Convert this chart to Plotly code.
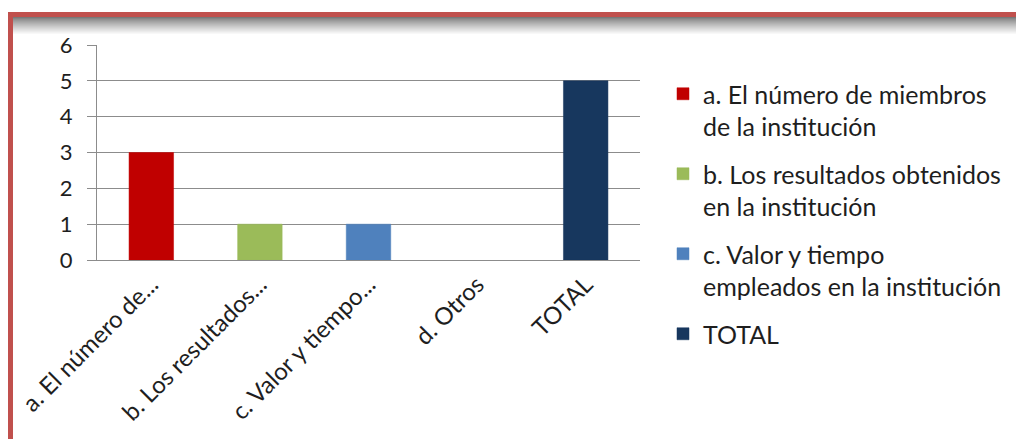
import plotly.graph_objects as go

# ---- data ----
categories = ["a. El número de...", "b. Los resultados...", "c. Valor y tiempo...", "d. Otros", "TOTAL"]
series_names = [
    "a. El número de miembros<br>de la institución",
    "b. Los resultados obtenidos<br>en la institución",
    "c. Valor y tiempo<br>empleados en la institución",
    "TOTAL",
]
series_category = ["a. El número de...", "b. Los resultados...", "c. Valor y tiempo...", "TOTAL"]
series_values = [3, 1, 1, 5]
series_colors = ["#C00000", "#9BBB59", "#4F81BD", "#17375E"]
y_ticks = [0, 1, 2, 3, 4, 5, 6]

FONT = "Lato"
TXT = "#1e1e1e"
GRID = "#8c8c8c"

W, H = 1016, 439
L, R, T, B = 97, 376, 45, 179
PW, PH = W - L - R, H - T - B


def px(x):
    return (x - L) / PW


def py(y):
    return (H - B - y) / PH


fig = go.Figure()
for name, cat, val, col in zip(series_names, series_category, series_values, series_colors):
    fig.add_trace(go.Bar(
        x=[cat], y=[val], name=name, legendgroup=name,
        marker=dict(color=col, line=dict(color=col, width=0.5)),
        width=0.41,
    ))

shapes = []
# gray shadow under top border (fading)
steps = 18
for i in range(steps):
    g = int(120 + (255 - 120) * (i / (steps - 1)) ** 0.8)
    shapes.append(dict(type="rect", xref="paper", yref="paper",
                       x0=px(13), x1=px(W + 5), y0=py(17 + i), y1=py(18 + i),
                       fillcolor=f"rgb({g},{g},{g})", line=dict(width=0), layer="below"))
# red frame
shapes.append(dict(type="rect", xref="paper", yref="paper",
                   x0=px(8), x1=px(W + 10), y0=py(12), y1=py(17),
                   fillcolor="#C0504D", line=dict(width=0)))
shapes.append(dict(type="rect", xref="paper", yref="paper",
                   x0=px(8), x1=px(13), y0=py(12), y1=py(H + 10),
                   fillcolor="#C0504D", line=dict(width=0)))

fig.update_layout(
    width=W, height=H,
    margin=dict(l=L, r=R, t=T, b=B, autoexpand=False),
    paper_bgcolor="white", plot_bgcolor="white",
    barmode="overlay",
    font=dict(family=FONT, size=24, color=TXT),
    showlegend=True,
    legend=dict(
        x=px(663), y=py(71), xanchor="left", yanchor="top",
        font=dict(family=FONT, size=25, color=TXT),
        valign="top", tracegroupgap=12, traceorder="grouped",
        bgcolor="rgba(0,0,0,0)", maxheight=420,
    ),
    shapes=shapes,
)
fig.update_xaxes(
    categoryorder="array", categoryarray=categories,
    tickangle=-45, tickfont=dict(family=FONT, size=24, color=TXT),
    showline=True, linecolor=GRID, linewidth=1,
    ticks="", showgrid=False, range=[-0.5, 4.5], automargin=False,
)
fig.update_yaxes(
    range=[0, 6], tickvals=y_ticks, ticktext=[str(v) for v in y_ticks],
    showgrid=True, gridcolor=GRID, gridwidth=1,
    showline=True, linecolor=GRID, linewidth=1,
    ticks="outside", ticklen=9, tickcolor=GRID,
    tickfont=dict(family=FONT, size=22, color=TXT),
    ticklabelstandoff=10, zeroline=False, automargin=False,
)

fig.write_html(
    "out.html",
    config={"displayModeBar": False},
    post_script="document.body.style.margin='0';document.body.style.overflow='hidden';",
)
